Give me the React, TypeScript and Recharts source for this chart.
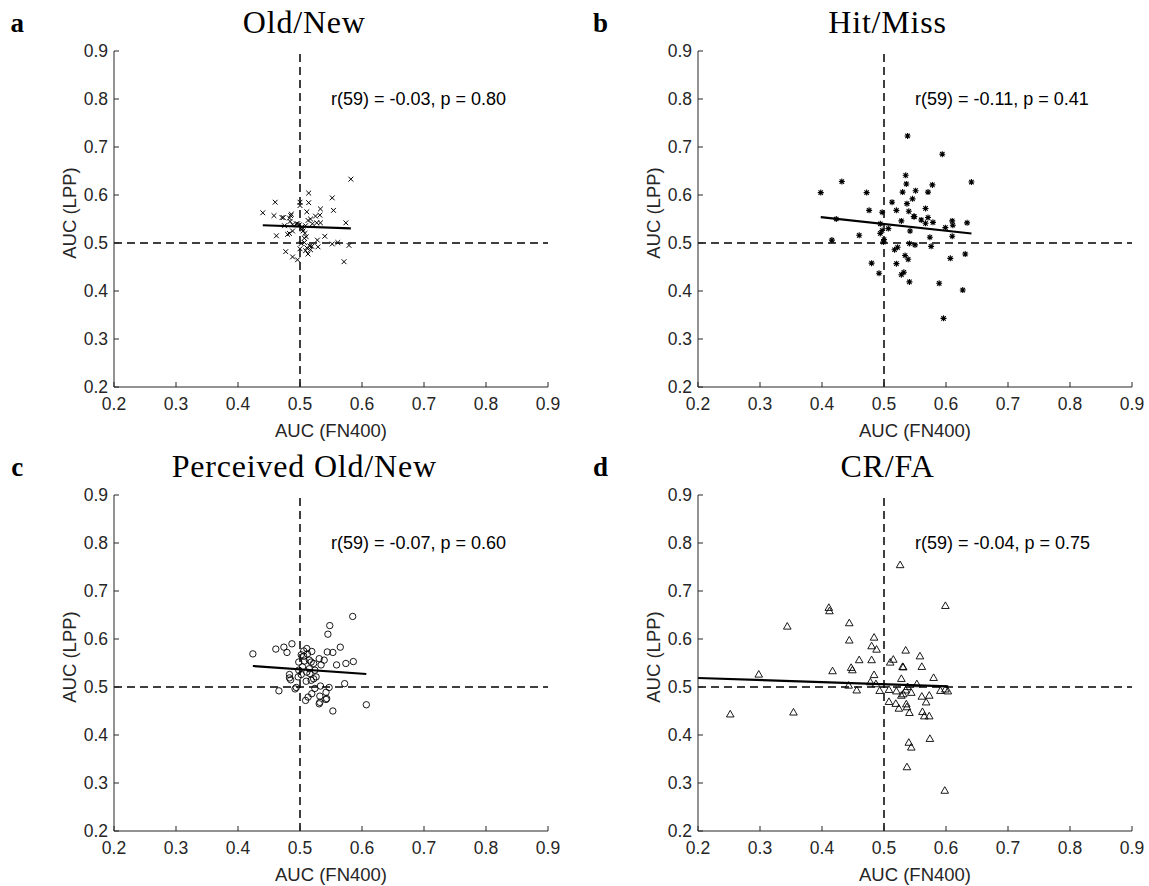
import React from "react";
import { ScatterChart, Scatter, XAxis, YAxis, ReferenceLine, ReferenceDot } from "recharts";

// axis ticks shared by every panel
const axisTicks = [0.2, 0.3, 0.4, 0.5, 0.6, 0.7, 0.8, 0.9];

// a: Old/New  (AUC FN400, AUC LPP)
const oldNewPts: [number, number][] = [
  [0.582, 0.633], [0.514, 0.604], [0.552, 0.594], [0.46, 0.585], [0.5, 0.585], [0.514, 0.584],
  [0.5, 0.578], [0.533, 0.571], [0.554, 0.568], [0.44, 0.563], [0.511, 0.565], [0.458, 0.557],
  [0.471, 0.553], [0.473, 0.553], [0.486, 0.56], [0.483, 0.552], [0.532, 0.558], [0.525, 0.556],
  [0.517, 0.55], [0.513, 0.547], [0.484, 0.545], [0.574, 0.542], [0.527, 0.542], [0.533, 0.542],
  [0.494, 0.54], [0.499, 0.538], [0.488, 0.538], [0.509, 0.536], [0.475, 0.536], [0.505, 0.525],
  [0.488, 0.525], [0.483, 0.52], [0.48, 0.518], [0.508, 0.52], [0.462, 0.515], [0.51, 0.513],
  [0.54, 0.514], [0.528, 0.506], [0.507, 0.501], [0.552, 0.498], [0.561, 0.501], [0.579, 0.495],
  [0.519, 0.493], [0.511, 0.49], [0.529, 0.492], [0.5, 0.488], [0.517, 0.486], [0.509, 0.484],
  [0.477, 0.482], [0.513, 0.477], [0.488, 0.471], [0.496, 0.465], [0.571, 0.461], [0.507, 0.51],
  [0.503, 0.533], [0.52, 0.54], [0.502, 0.499], [0.504, 0.529], [0.496, 0.54], [0.516, 0.494],
  [0.485, 0.557],
];
const oldNewFit = [{ x: 0.44, y: 0.537 }, { x: 0.582, y: 0.5306 }];

// b: Hit/Miss
const hitMissPts: [number, number][] = [
  [0.538, 0.723], [0.594, 0.685], [0.432, 0.628], [0.641, 0.627], [0.535, 0.641], [0.536, 0.623],
  [0.578, 0.621], [0.398, 0.605], [0.472, 0.605], [0.53, 0.606], [0.551, 0.609], [0.571, 0.606],
  [0.546, 0.592], [0.513, 0.585], [0.537, 0.582], [0.476, 0.568], [0.52, 0.568], [0.567, 0.572],
  [0.497, 0.564], [0.54, 0.566], [0.548, 0.555], [0.571, 0.553], [0.56, 0.548], [0.579, 0.543],
  [0.567, 0.541], [0.423, 0.55], [0.528, 0.546], [0.61, 0.546], [0.611, 0.537], [0.634, 0.542],
  [0.494, 0.54], [0.599, 0.532], [0.507, 0.53], [0.542, 0.525], [0.494, 0.52], [0.46, 0.516],
  [0.574, 0.512], [0.61, 0.514], [0.5, 0.507], [0.416, 0.506], [0.499, 0.502], [0.541, 0.499],
  [0.55, 0.496], [0.576, 0.493], [0.522, 0.491], [0.517, 0.486], [0.631, 0.477], [0.534, 0.474],
  [0.539, 0.466], [0.607, 0.468], [0.48, 0.458], [0.52, 0.457], [0.492, 0.437], [0.528, 0.434],
  [0.532, 0.439], [0.541, 0.419], [0.589, 0.416], [0.627, 0.402], [0.596, 0.343], [0.549, 0.555],
  [0.497, 0.526],
];
const hitMissFit = [{ x: 0.398, y: 0.5538 }, { x: 0.641, y: 0.5198 }];

// c: Perceived Old/New
const perceivedPts: [number, number][] = [
  [0.585, 0.647], [0.548, 0.628], [0.545, 0.61], [0.424, 0.569], [0.487, 0.59], [0.474, 0.583],
  [0.461, 0.579], [0.479, 0.572], [0.511, 0.58], [0.519, 0.574], [0.506, 0.575], [0.565, 0.583],
  [0.544, 0.573], [0.553, 0.572], [0.502, 0.567], [0.512, 0.569], [0.531, 0.559], [0.539, 0.556],
  [0.498, 0.552], [0.507, 0.554], [0.518, 0.552], [0.522, 0.549], [0.534, 0.546], [0.559, 0.546],
  [0.574, 0.549], [0.586, 0.553], [0.504, 0.542], [0.515, 0.538], [0.524, 0.535], [0.498, 0.535],
  [0.511, 0.531], [0.483, 0.526], [0.502, 0.526], [0.516, 0.528], [0.483, 0.519], [0.485, 0.515],
  [0.497, 0.521], [0.522, 0.517], [0.51, 0.512], [0.518, 0.514], [0.572, 0.507], [0.494, 0.499],
  [0.466, 0.492], [0.533, 0.502], [0.547, 0.499], [0.524, 0.497], [0.519, 0.486], [0.542, 0.489],
  [0.532, 0.481], [0.513, 0.479], [0.543, 0.476], [0.509, 0.472], [0.532, 0.468], [0.542, 0.474],
  [0.531, 0.465], [0.553, 0.45], [0.607, 0.463], [0.526, 0.521], [0.506, 0.564], [0.515, 0.556],
  [0.492, 0.496],
];
const perceivedFit = [{ x: 0.424, y: 0.5438 }, { x: 0.607, y: 0.5271 }];

// d: CR/FA
const crFaPts: [number, number][] = [
  [0.526, 0.754], [0.599, 0.669], [0.411, 0.665], [0.412, 0.658], [0.344, 0.626], [0.444, 0.633],
  [0.444, 0.597], [0.484, 0.603], [0.48, 0.585], [0.488, 0.578], [0.535, 0.576], [0.558, 0.564],
  [0.46, 0.556], [0.48, 0.556], [0.51, 0.551], [0.515, 0.557], [0.53, 0.542], [0.531, 0.541],
  [0.561, 0.542], [0.447, 0.54], [0.449, 0.535], [0.417, 0.533], [0.298, 0.526], [0.484, 0.525],
  [0.528, 0.517], [0.58, 0.519], [0.478, 0.51], [0.553, 0.506], [0.443, 0.503], [0.487, 0.506],
  [0.456, 0.493], [0.493, 0.492], [0.508, 0.494], [0.52, 0.491], [0.535, 0.493], [0.544, 0.488],
  [0.538, 0.5], [0.591, 0.492], [0.599, 0.495], [0.603, 0.491], [0.528, 0.482], [0.561, 0.48],
  [0.573, 0.482], [0.508, 0.469], [0.519, 0.465], [0.568, 0.468], [0.536, 0.464], [0.537, 0.458],
  [0.524, 0.455], [0.541, 0.446], [0.562, 0.448], [0.565, 0.439], [0.573, 0.439], [0.252, 0.443],
  [0.354, 0.447], [0.54, 0.384], [0.544, 0.374], [0.574, 0.392], [0.537, 0.333], [0.598, 0.284],
  [0.531, 0.485],
];
const crFaFit = [{ x: 0.2, y: 0.5188 }, { x: 0.6037, y: 0.5014 }];

const INK = "#262626";
const SANS = "'Liberation Sans', Arial, Helvetica, sans-serif";
const SERIF = "'Liberation Serif', 'Times New Roman', serif";

const Cross = (p: any) => {
  const { cx, cy } = p;
  const s = 2.4;
  return (
    <path
      d={`M${cx - s},${cy - s}L${cx + s},${cy + s}M${cx - s},${cy + s}L${cx + s},${cy - s}`}
      stroke="#000"
      strokeWidth={1}
      fill="none"
    />
  );
};

const Asterisk = (p: any) => {
  const { cx, cy } = p;
  const s = 3;
  const d = 2.2;
  return (
    <path
      d={`M${cx - s},${cy}L${cx + s},${cy}M${cx},${cy - s}L${cx},${cy + s}M${cx - d},${cy - d}L${cx + d},${cy + d}M${cx - d},${cy + d}L${cx + d},${cy - d}`}
      stroke="#000"
      strokeWidth={1.1}
      fill="none"
    />
  );
};

const Ring = (p: any) => <circle cx={p.cx} cy={p.cy} r={3.2} fill="none" stroke="#000" strokeWidth={0.9} />;

const Tri = (p: any) => {
  const { cx, cy } = p;
  return (
    <polygon
      points={`${cx},${cy - 4} ${cx - 3.8},${cy + 2.6} ${cx + 3.8},${cy + 2.6}`}
      fill="none"
      stroke="#000"
      strokeWidth={0.9}
    />
  );
};

interface PanelProps {
  letter: string;
  title: string;
  points: [number, number][];
  fit: { x: number; y: number }[];
  stat: string;
  Marker: (p: any) => React.ReactElement;
  left: number;
  top: number;
}

const PLOT_W = 434;
const PLOT_H = 336;

function Panel({ letter, title, points, fit, stat, Marker, left, top }: PanelProps) {
  const data = points.map(([x, y]) => ({ x, y }));
  const tickStyle = { fontSize: 17.5, fill: INK, fontFamily: SANS };

  return (
    <>
      <div
        style={{
          position: "absolute",
          left: left - 97,
          top: top - 28,
          transform: "translate(-50%, -50%)",
          fontFamily: SERIF,
          fontWeight: 700,
          fontSize: 27,
          lineHeight: 1,
        }}
      >
        {letter}
      </div>
      <div
        style={{
          position: "absolute",
          left: left + 190,
          top: top - 29,
          transform: "translate(-50%, -50%)",
          fontFamily: SERIF,
          fontSize: 32,
          letterSpacing: 0.8,
          lineHeight: 1,
          whiteSpace: "nowrap",
        }}
      >
        {title}
      </div>
      <div style={{ position: "absolute", left: left - 100, top: top - 45 }}>
        <ScatterChart
          width={100 + PLOT_W + 14}
          height={45 + PLOT_H + 54}
          margin={{ top: 45, left: 40, right: 14, bottom: 4 }}
        >
          <XAxis
            type="number"
            dataKey="x"
            domain={[0.2, 0.9]}
            ticks={axisTicks}
            allowDataOverflow
            height={50}
            stroke={INK}
            tickSize={-5}
            tickMargin={15.4}
            tick={tickStyle}
            tickFormatter={(v: number) => v.toFixed(1)}
            label={{
              content: (p: any) => {
                const vb = p.viewBox;
                return (
                  <text
                    x={vb.x + vb.width / 2}
                    y={vb.y + 43}
                    textAnchor="middle"
                    dominantBaseline="central"
                    fontFamily={SANS}
                    fontSize={18.5}
                    fill={INK}
                  >
                    AUC (FN400)
                  </text>
                );
              },
            }}
          />
          <XAxis
            xAxisId="top"
            orientation="top"
            type="number"
            domain={[0.2, 0.9]}
            ticks={axisTicks}
            allowDataOverflow
            height={0}
            stroke={INK}
            tickSize={-5}
            tick={false}
          />
          <YAxis
            type="number"
            dataKey="y"
            domain={[0.2, 0.9]}
            ticks={axisTicks}
            allowDataOverflow
            width={60}
            stroke={INK}
            tickSize={-5}
            tickMargin={11}
            tick={tickStyle}
            tickFormatter={(v: number) => v.toFixed(1)}
            label={{
              content: (p: any) => {
                const vb = p.viewBox;
                const lx = vb.x + vb.width - 44.3;
                const ly = vb.y + vb.height / 2 - 6;
                return (
                  <text
                    x={lx}
                    y={ly}
                    transform={`rotate(-90, ${lx}, ${ly})`}
                    textAnchor="middle"
                    dominantBaseline="central"
                    fontFamily={SANS}
                    fontSize={18.5}
                    fill={INK}
                  >
                    AUC (LPP)
                  </text>
                );
              },
            }}
          />
          <YAxis
            yAxisId="right"
            orientation="right"
            type="number"
            domain={[0.2, 0.9]}
            ticks={axisTicks}
            allowDataOverflow
            width={0}
            stroke={INK}
            tickSize={-5}
            tick={false}
          />
          <ReferenceLine x={0.5} stroke="#000" strokeOpacity={1} strokeWidth={1.5} strokeDasharray="8 5" />
          <ReferenceLine y={0.5} stroke="#000" strokeOpacity={1} strokeWidth={1.5} strokeDasharray="8 5" />
          <Scatter data={data} shape={Marker} isAnimationActive={false} />
          <ReferenceLine segment={fit} stroke="#000" strokeOpacity={1} strokeWidth={2.2} />
          <ReferenceDot
            x={0.55}
            y={0.8}
            r={0}
            shape={(p: any) => (
              <text
                x={p.cx}
                y={p.cy}
                textAnchor="start"
                dominantBaseline="central"
                fontFamily={SANS}
                fontSize={18}
                fill="#000"
              >
                {stat}
              </text>
            )}
          />
        </ScatterChart>
      </div>
    </>
  );
}

export default function App() {
  return (
    <div
      style={{
        position: "absolute",
        left: 0,
        top: 0,
        width: 1149,
        height: 886,
        background: "#fff",
        overflow: "hidden",
      }}
    >
      <Panel letter="a" title="Old/New" points={oldNewPts} fit={oldNewFit}
        stat="r(59) = -0.03, p = 0.80" Marker={Cross} left={114.3} top={50.7} />
      <Panel letter="b" title="Hit/Miss" points={hitMissPts} fit={hitMissFit}
        stat="r(59) = -0.11, p = 0.41" Marker={Asterisk} left={697.5} top={50.7} />
      <Panel letter="c" title="Perceived Old/New" points={perceivedPts} fit={perceivedFit}
        stat="r(59) = -0.07, p = 0.60" Marker={Ring} left={114.3} top={494.7} />
      <Panel letter="d" title="CR/FA" points={crFaPts} fit={crFaFit}
        stat="r(59) = -0.04, p = 0.75" Marker={Tri} left={697.5} top={494.7} />
    </div>
  );
}
